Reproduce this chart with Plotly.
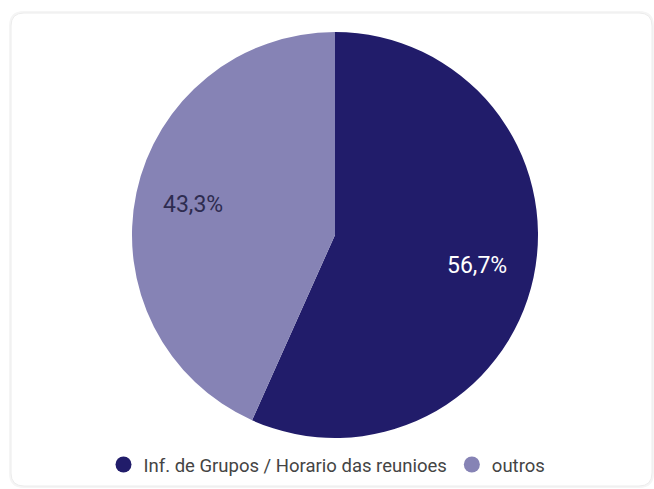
import math
import plotly.graph_objects as go

labels = ["Inf. de Grupos / Horario das reunioes", "outros"]
values = [56.7, 43.3]
colors = ["#211C6A", "#8683B5"]
text_colors = ["#FFFFFF", "#2E2C50"]

W, H = 654, 489
# pie geometry (pixels)
CX, CY, R = 335, 235, 203

fig = go.Figure()
fig.add_trace(go.Pie(
    labels=labels, values=values, sort=False, direction="clockwise", rotation=0,
    marker=dict(colors=colors, line=dict(width=0)),
    textinfo="none",
    showlegend=False, hoverinfo="label+percent",
    domain=dict(x=[(CX - R) / W, (CX + R) / W], y=[1 - (CY + R) / H, 1 - (CY - R) / H]),
))
for lab, col in zip(labels, colors):
    fig.add_trace(go.Scatter(x=[None], y=[None], mode="markers", name=lab,
                             marker=dict(symbol="circle", size=19, color=col)))

# slice labels at 0.715 radius along each slice's mid-angle
total = sum(values)
cum = 0.0
for v, tc in zip(values, text_colors):
    mid = (cum + v / 2) / total * 2 * math.pi
    cum += v
    px = CX + 0.715 * R * math.sin(mid)
    py = CY - 0.715 * R * math.cos(mid)
    fig.add_annotation(x=px / W, y=1 - py / H, xref="paper", yref="paper",
                       text=f"{v / total * 100:.1f}%".replace(".", ","), showarrow=False,
                       font=dict(family="Roboto", size=23, color=tc),
                       xanchor="center", yanchor="middle")

def card_path(x0, y0, x1, y1, rx, ry):
    return (f"M {x0+rx},{y0} L {x1-rx},{y0} Q {x1},{y0} {x1},{y0+ry} "
            f"L {x1},{y1-ry} Q {x1},{y1} {x1-rx},{y1} L {x0+rx},{y1} "
            f"Q {x0},{y1} {x0},{y1-ry} L {x0},{y0+ry} Q {x0},{y0} {x0+rx},{y0} Z")
px0, py0, px1, py1 = 11, 13, 652, 486
p = card_path(px0 / W, 1 - py1 / H, px1 / W, 1 - py0 / H, 13 / W, 13 / H)
fig.add_shape(type="path", xref="paper", yref="paper", path=p,
              line=dict(color="#F5F5F5", width=4), fillcolor="white", layer="below")
fig.add_shape(type="path", xref="paper", yref="paper", path=p,
              line=dict(color="#ECECEC", width=1), fillcolor="white", layer="below")

fig.update_layout(
    width=W, height=H, margin=dict(l=0, r=0, t=0, b=0),
    paper_bgcolor="white", plot_bgcolor="rgba(0,0,0,0)",
    separators=",.",
    xaxis=dict(visible=False), yaxis=dict(visible=False),
    font=dict(family="Roboto", size=18, color="#444444"),
    legend=dict(orientation="h", x=0.5, xanchor="center", y=1 - 465 / H, yanchor="middle",
                font=dict(family="Roboto", size=18.5, color="#444444"),
                itemsizing="trace", bgcolor="rgba(0,0,0,0)"),
)
fig.write_html("out.html", config={"displayModeBar": False},
               post_script="document.body.style.margin='0';document.body.style.overflow='hidden';")
